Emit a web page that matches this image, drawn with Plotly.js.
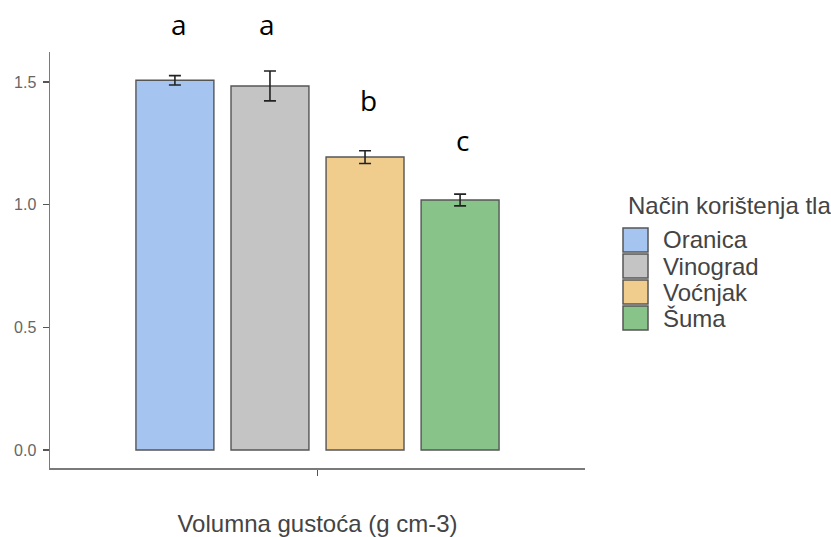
<!DOCTYPE html>
<html>
<head>
<meta charset="utf-8">
<script src="https://cdn.plot.ly/plotly-3.0.1.min.js"></script>
<style>html,body{margin:0;padding:0;background:#fff}#chart{width:831px;height:537px}</style>
</head>
<body>
<div id="chart"></div>
<script>
const categories = ["Oranica", "Vinograd", "Voćnjak", "Šuma"];
const means = [1.507, 1.484, 1.194, 1.019];
const errors = [0.019, 0.061, 0.026, 0.024];
const colors = ["#a6c4f0", "#c4c4c4", "#f0cd8c", "#88c48a"];
const letters = ["a", "a", "b", "c"];
const xCategory = [""];
const yTickVals = [0, 0.5, 1.0, 1.5];
const yTickText = ["0.0", "0.5", "1.0", "1.5"];
const xTitle = "Volumna gustoća (g cm-3)";
const legendTitle = "Način korištenja tla";

// plot area in pixels (for placing text/legend in paper coordinates)
const W = 831, H = 537, L = 50, R = 585, T = 52, B = 468;
const px = v => (v - L) / (R - L);
const py = v => (B - v) / (B - T);

const letterPx = [179, 267, 368, 462];
const letterPy = [24, 24, 100, 140];

const traces = categories.map((c, i) => ({
  type: "bar",
  name: c,
  x: xCategory,
  y: [means[i]],
  showlegend: false,
  marker: {color: colors[i], line: {color: "#555555", width: 1.4}},
  error_y: {type: "data", array: [errors[i]], visible: true, color: "#222", thickness: 1.6, width: 6}
}));

const annotations = letters.map((t, i) => ({
  text: t, xref: "paper", yref: "paper", x: px(letterPx[i]), y: py(letterPy[i]),
  showarrow: false, xanchor: "center", yanchor: "middle",
  font: {family: "Open Sans, sans-serif", size: 28, color: "#000"}
}));

// legend drawn as shapes + text
const shapes = [];
annotations.push({
  text: legendTitle, xref: "paper", yref: "paper", x: px(626), y: py(205),
  showarrow: false, xanchor: "left", yanchor: "middle",
  font: {family: "Liberation Sans, Arial, sans-serif", size: 24, color: "#444"}
});
categories.forEach((c, i) => {
  const top = 228 + 26 * i;
  shapes.push({
    type: "rect", xref: "paper", yref: "paper",
    x0: px(623), x1: px(648), y0: py(top + 24), y1: py(top),
    fillcolor: colors[i], line: {color: "#555555", width: 1.5}
  });
  annotations.push({
    text: c, xref: "paper", yref: "paper", x: px(661), y: py(top + 12),
    showarrow: false, xanchor: "left", yanchor: "middle",
    font: {family: "Liberation Sans, Arial, sans-serif", size: 24, color: "#444"}
  });
});

const layout = {
  width: W, height: H,
  margin: {l: L, r: W - R, t: T, b: H - B},
  paper_bgcolor: "#fff", plot_bgcolor: "#fff",
  barmode: "group", bargap: 0.005, bargroupgap: 0.18,
  showlegend: false,
  xaxis: {
    type: "category", range: [-0.7, 0.7],
    showline: true, linecolor: "#7a7a7a", linewidth: 1.5,
    ticks: "outside", ticklen: 6, tickcolor: "#555", tickwidth: 1.5,
    showticklabels: false, showgrid: false, zeroline: false,
    title: {text: xTitle, standoff: 48, font: {family: "Liberation Sans, Arial, sans-serif", size: 24, color: "#444"}},
    automargin: false
  },
  yaxis: {
    range: [-0.0734, 1.6223],
    tickvals: yTickVals, ticktext: yTickText,
    showline: true, linecolor: "#7a7a7a", linewidth: 1.5,
    ticks: "outside", ticklen: 6, tickcolor: "#555", tickwidth: 1.5,
    ticklabelstandoff: 3,
    showgrid: false, zeroline: false,
    tickfont: {family: "Liberation Sans, Arial, sans-serif", size: 16, color: "#666"},
    automargin: false
  },
  shapes: shapes,
  annotations: annotations
};

Plotly.newPlot("chart", traces, layout, {displayModeBar: false, staticPlot: true});
</script>
</body>
</html>
